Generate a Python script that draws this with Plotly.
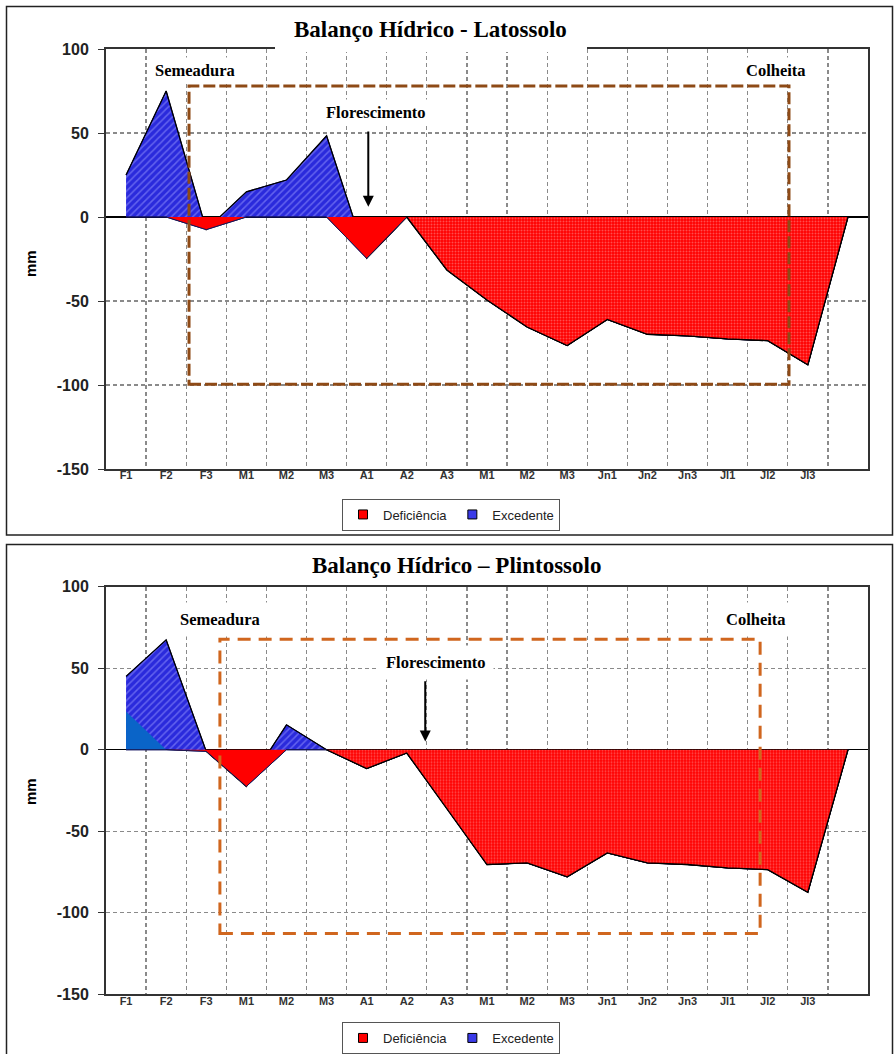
import plotly.graph_objects as go

W, H = 894, 1054

# ---------------- data ----------------
categories = ["F1", "F2", "F3", "M1", "M2", "M3", "A1", "A2", "A3",
              "M1", "M2", "M3", "Jn1", "Jn2", "Jn3", "Jl1", "Jl2", "Jl3", ""]
x_idx = list(range(len(categories)))

# Latossolo
deficit_lat = [0, 0, -7.5, 0, 0, 0, -24.6, 0, -31.5, -49.4, -65.5, -76.5,
               -61, -69.8, -70.8, -72.6, -73.6, -88, 0]
excess_lat = [25, 75, 0, 15, 22, 48.4, 0, 0, 0, 0, 0, 0, 0, 0, 0, 0, 0, 0, 0]

# Plintossolo
deficit_pli = [0, 0, -1, -22.5, 0, 0, -11.5, -2, -36, -70.4, -69.4, -78,
               -63.3, -69.4, -70.4, -72.5, -73.5, -87.4, 0]
excess_pli = [45, 67.4, 0, 0, 15.3, 0, 0, 0, 0, 0, 0, 0, 0, 0, 0, 0, 0, 0, 0]
excess_pli_initial = [23.5, 0, 0, 0, 0, 0, 0, 0, 0, 0, 0, 0, 0, 0, 0, 0, 0, 0, 0]

y_ticks = [-150, -100, -50, 0, 50, 100]
y_ticktext = ["-150", "-100", "-50", "0", "50", "100"]

# ---------------- styling helpers ----------------
def py(y):
    return 1 - y / H

def pxx(x):
    return x / W

RED = "#FF0000"
BLUE_BG = "#2A2ADC"
SERIF = "Liberation Serif, Times New Roman, serif"
SANS = "Liberation Sans, Arial, sans-serif"

fig = go.Figure()


def add_chart(xa, ya, leg, deficit, excess, solid_until, extra=None):
    # excess stacked on deficit (drawn first, deficit covers the part below zero)
    top = [d + e for d, e in zip(deficit, excess)]
    fig.add_trace(go.Scatter(
        x=x_idx + x_idx[::-1], y=top + deficit[::-1], mode="lines",
        fill="toself", fillcolor=BLUE_BG,
        fillpattern=dict(shape="/", bgcolor=BLUE_BG, fgcolor="#9C9CFF", size=5, solidity=0.3),
        line=dict(color="#000070", width=1),
        showlegend=False, xaxis=xa, yaxis=ya, hoverinfo="skip"))
    if extra is not None:
        fig.add_trace(go.Scatter(
            x=x_idx, y=extra, mode="lines", fill="tozeroy", fillcolor="#0A64C8",
            line=dict(width=0, color="#0A64C8"),
            showlegend=False, xaxis=xa, yaxis=ya, hoverinfo="skip"))
    fig.add_trace(go.Scatter(
        x=x_idx, y=top, mode="lines", line=dict(color="black", width=1.3),
        showlegend=False, xaxis=xa, yaxis=ya, hoverinfo="skip"))
    # solid part of deficit
    fig.add_trace(go.Scatter(
        x=x_idx[:solid_until + 1], y=deficit[:solid_until + 1], mode="lines",
        fill="tozeroy", fillcolor=RED, line=dict(color="#1A1A50", width=1),
        showlegend=False, xaxis=xa, yaxis=ya, hoverinfo="skip"))
    # dotted part of deficit
    fig.add_trace(go.Scatter(
        x=x_idx[solid_until:], y=deficit[solid_until:], mode="lines",
        fill="tozeroy", fillcolor=RED,
        fillpattern=dict(shape=".", bgcolor=RED, fgcolor="#FF9A9A", size=3, solidity=0.35),
        line=dict(color="black", width=1.3),
        showlegend=False, xaxis=xa, yaxis=ya, hoverinfo="skip"))
    # legend entries
    fig.add_trace(go.Scatter(
        x=[None], y=[None], mode="markers", name="Deficiência",
        marker=dict(symbol="square", size=9, color=RED, line=dict(color="black", width=1)),
        legend=leg, xaxis=xa, yaxis=ya))
    fig.add_trace(go.Scatter(
        x=[None], y=[None], mode="markers", name="Excedente",
        marker=dict(symbol="square", size=9, color="#3A3AE8", line=dict(color="black", width=1)),
        legend=leg, xaxis=xa, yaxis=ya))


add_chart("x", "y", "legend", deficit_lat, excess_lat, 7)
add_chart("x2", "y2", "legend2", deficit_pli, excess_pli, 5, extra=excess_pli_initial)

grid_minor = dict(tickvals=[i + 0.5 for i in range(18)], showgrid=True,
                  gridcolor="#8A8A8A", gridwidth=1.3, griddash="4px,3px", ticks="")

xcommon = dict(range=[-0.5, 18.5], tickmode="array", tickvals=x_idx[:18],
               ticktext=categories[:18], showgrid=False, zeroline=False,
               showline=True, linecolor="#333", linewidth=2, ticks="",
               ticklabelstandoff=-5, automargin=False,
               tickfont=dict(family=SANS, size=11, color="#333", weight="bold"),
               minor=grid_minor, fixedrange=True)
ycommon = dict(range=[-150, 100], tickmode="array", tickvals=y_ticks, ticktext=y_ticktext,
               showgrid=True, gridcolor="#8A8A8A", gridwidth=1.3, griddash="4px,3px",
               zeroline=True, zerolinecolor="black", zerolinewidth=1.5,
               showline=True, linecolor="#333", linewidth=2, mirror=True,
               ticks="outside", ticklen=6, tickcolor="#333", ticklabelstandoff=6,
               automargin=False,
               tickfont=dict(family=SANS, size=16, color="#222", weight="bold"),
               fixedrange=True)

xdom = [pxx(106), pxx(868)]
fig.update_layout(
    width=W, height=H, margin=dict(l=0, r=0, t=0, b=0, pad=0, autoexpand=False),
    paper_bgcolor="white", plot_bgcolor="white",
    xaxis=dict(domain=xdom, anchor="y", mirror=True, **xcommon),
    yaxis=dict(domain=[py(469), py(49)], anchor="x", **ycommon),
    xaxis2=dict(domain=xdom, anchor="y2", mirror=True, **xcommon),
    yaxis2=dict(domain=[py(994.3), py(586.7)], anchor="x2", **ycommon),
    legend=dict(x=pxx(451), y=py(514.5), xanchor="center", yanchor="middle",
                orientation="h", bordercolor="#555", borderwidth=1, bgcolor="white",
                font=dict(family=SANS, size=13, color="#222"), itemwidth=30),
    legend2=dict(x=pxx(451), y=py(1038), xanchor="center", yanchor="middle",
                 orientation="h", bordercolor="#555", borderwidth=1, bgcolor="white",
                 font=dict(family=SANS, size=13, color="#222"), itemwidth=30),
)

# stage windows (growing season) and frames
stage_lat = dict(x0=1.57, x1=16.53, y0=-99.6, y1=78)
stage_pli = dict(x0=2.34, x1=15.81, y0=-112.7, y1=67.8)
shapes = [
    dict(type="rect", xref="x", yref="y", **stage_lat,
         line=dict(color="#8E4A16", width=3, dash="12px,4px"), layer="above"),
    dict(type="rect", xref="x2", yref="y2", **stage_pli,
         line=dict(color="#D0661E", width=3, dash="13px,8px"), layer="above"),
    # outer frames
    dict(type="rect", xref="paper", yref="paper", x0=pxx(6.5), x1=pxx(892.5),
         y0=py(535), y1=py(6.5), line=dict(color="#222", width=1.5)),
    dict(type="rect", xref="paper", yref="paper", x0=pxx(6.5), x1=pxx(892.5),
         y0=py(1060), y1=py(544.5), line=dict(color="#222", width=1.5)),
    # title mask on top border of first chart
    dict(type="rect", xref="paper", yref="paper", x0=pxx(275), x1=pxx(587),
         y0=py(52), y1=py(46), line=dict(width=0), fillcolor="white", layer="above"),
]
fig.update_layout(shapes=shapes)

ann = []
# titles
ann.append(dict(text="<b>Balanço Hídrico - Latossolo</b>", x=pxx(430), y=py(30),
                xref="paper", yref="paper", showarrow=False,
                xanchor="center", yanchor="middle",
                font=dict(family=SERIF, size=23, color="black")))
ann.append(dict(text="<b>Balanço Hídrico – Plintossolo</b>", x=pxx(456), y=py(565),
                xref="paper", yref="paper", showarrow=False,
                xanchor="center", yanchor="middle",
                font=dict(family=SERIF, size=23, color="black")))
# y-axis titles
for yc in (264, 792):
    ann.append(dict(text="<b>mm</b>", x=pxx(30), y=py(yc), xref="paper", yref="paper",
                    showarrow=False, textangle=-90, xanchor="center", yanchor="middle",
                    font=dict(family=SANS, size=15, color="black")))

lab_font = dict(family=SERIF, size=16.5, color="black")
# Latossolo labels
ann += [
    dict(text="<b>Semeadura</b>", x=1.72, y=87.5, xref="x", yref="y", showarrow=False,
         font=lab_font, bgcolor="white", borderpad=3),
    dict(text="<b>Florescimento</b>", x=6.22, y=62.5, xref="x", yref="y", showarrow=False,
         font=lab_font, bgcolor="white", borderpad=3),
    dict(text="<b>Colheita</b>", x=16.2, y=87.5, xref="x", yref="y", showarrow=False,
         font=lab_font, bgcolor="white", borderpad=3),
    dict(text="", x=6.04, y=6.1, ax=6.04, ay=51.8, xref="x", yref="y", axref="x", ayref="y",
         showarrow=True, arrowhead=2, arrowsize=1.1, arrowwidth=2, arrowcolor="black"),
]
# Plintossolo labels
ann += [
    dict(text="<b>Semeadura</b>", x=2.35, y=80, xref="x2", yref="y2", showarrow=False,
         font=lab_font, bgcolor="white", borderpad=7),
    dict(text="<b>Florescimento</b>", x=7.72, y=53.3, xref="x2", yref="y2", showarrow=False,
         font=lab_font, bgcolor="white", borderpad=7),
    dict(text="<b>Colheita</b>", x=15.7, y=79.6, xref="x2", yref="y2", showarrow=False,
         font=lab_font, bgcolor="white", borderpad=7),
    dict(text="", x=7.46, y=5.1, ax=7.46, ay=42.9, xref="x2", yref="y2", axref="x2", ayref="y2",
         showarrow=True, arrowhead=2, arrowsize=1.1, arrowwidth=2, arrowcolor="black"),
]
fig.update_layout(annotations=ann)

fig.write_html(
    "out.html",
    config={"displayModeBar": False, "staticPlot": True},
    post_script=(
        "document.documentElement.style.margin='0';"
        "document.body.style.margin='0';document.body.style.padding='0';"
        "document.body.style.overflow='hidden';"
        "var gd=document.getElementById('{plot_id}');"
        "gd.style.position='fixed';gd.style.top='0px';gd.style.left='0px';"
    ),
)
